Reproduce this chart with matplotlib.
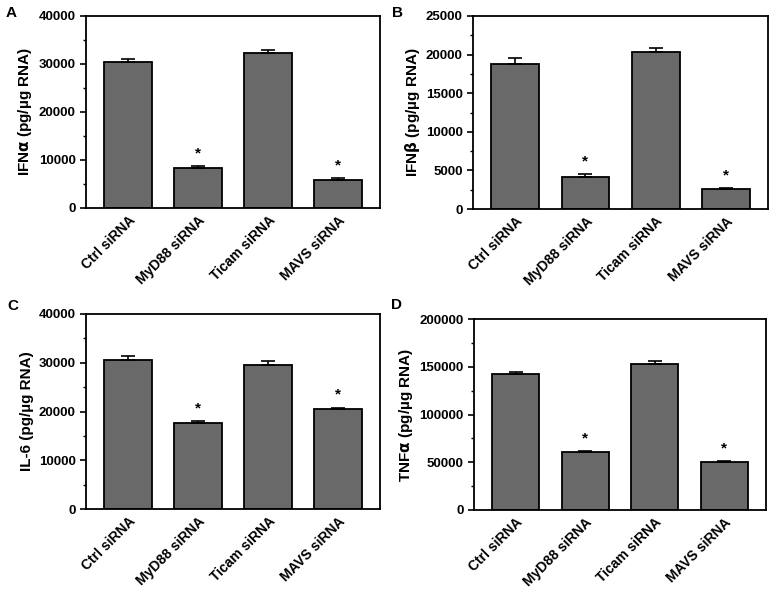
import numpy as np
import matplotlib
matplotlib.use('Agg')
import matplotlib.pyplot as plt
from matplotlib.ticker import AutoMinorLocator

plt.rcParams['font.family'] = ['Liberation Sans', 'DejaVu Sans']
plt.rcParams['font.weight'] = 'bold'

# Data
groups = ['Ctrl siRNA', 'MyD88 siRNA', 'Ticam siRNA', 'MAVS siRNA']

ifna = [30400, 8400, 32300, 5900]
ifna_err = [700, 300, 700, 300]
ifnb = [18800, 4100, 20300, 2600]
ifnb_err = [700, 400, 600, 150]
il6 = [30600, 17700, 29600, 20600]
il6_err = [800, 300, 800, 200]
tnfa = [142000, 61000, 153000, 50500]
tnfa_err = [3000, 800, 3000, 800]

panels = [
    ('A', ifna, ifna_err, r'IFN$\mathbf{\alpha}$ (pg/µg RNA)', 40000, 10000),
    ('B', ifnb, ifnb_err, r'IFN$\mathbf{\beta}$ (pg/µg RNA)', 25000, 5000),
    ('C', il6, il6_err, 'IL-6 (pg/µg RNA)', 40000, 10000),
    ('D', tnfa, tnfa_err, r'TNF$\mathbf{\alpha}$ (pg/µg RNA)', 200000, 50000),
]
signif = [False, True, False, True]

# axes boxes in pixels: left, top, right, bottom
boxes = [(86, 16, 380, 208), (473, 16, 768, 209),
         (86, 314, 380, 509), (474, 319, 766, 510)]
# panel letter positions in pixels
letter_pos = [(6, 13), (392, 13), (7, 306), (391, 305)]

W, H = 772, 596
fig = plt.figure(figsize=(W / 100, H / 100), dpi=100)

for (letter, vals, errs, ylab, ymax, step), (l, t, r, b), (lx, ly) in zip(panels, boxes, letter_pos):
    ax = fig.add_axes([l / W, 1 - b / H, (r - l) / W, (b - t) / H])
    x = np.arange(len(groups))
    ax.bar(x, vals, width=0.68, color='#696969', edgecolor='black', linewidth=1.3, zorder=2)
    ax.errorbar(x, vals, yerr=[np.zeros(len(vals)), errs], fmt='none', ecolor='black',
                elinewidth=1.2, capsize=5, capthick=1.2, zorder=3)
    for i, s in enumerate(signif):
        if s:
            ax.text(x[i], vals[i] + errs[i] + ymax * 0.03, '*', ha='center', va='bottom',
                    fontsize=11, fontweight='bold')
    ax.set_xlim(-0.6, 3.6)
    ax.set_ylim(0, ymax)
    ax.set_yticks(np.arange(0, ymax + 1, step))
    ax.yaxis.set_minor_locator(AutoMinorLocator(2))
    ax.tick_params(axis='y', which='major', direction='out', length=4, width=1.2, labelsize=9.5)
    ax.tick_params(axis='y', which='minor', direction='out', length=2, width=1)
    ax.set_xticks(x)
    ax.set_xticklabels(groups, rotation=45, ha='right', rotation_mode='anchor', fontsize=10)
    ax.tick_params(axis='x', length=0, pad=4)
    for sp in ax.spines.values():
        sp.set_linewidth(1.3)
    ax.set_ylabel(ylab, fontsize=11, fontweight='bold', labelpad=3)
    fig.text(lx / W, 1 - ly / H, letter, fontsize=11, fontweight='bold', va='center')

fig.savefig('out.png', dpi=100)
